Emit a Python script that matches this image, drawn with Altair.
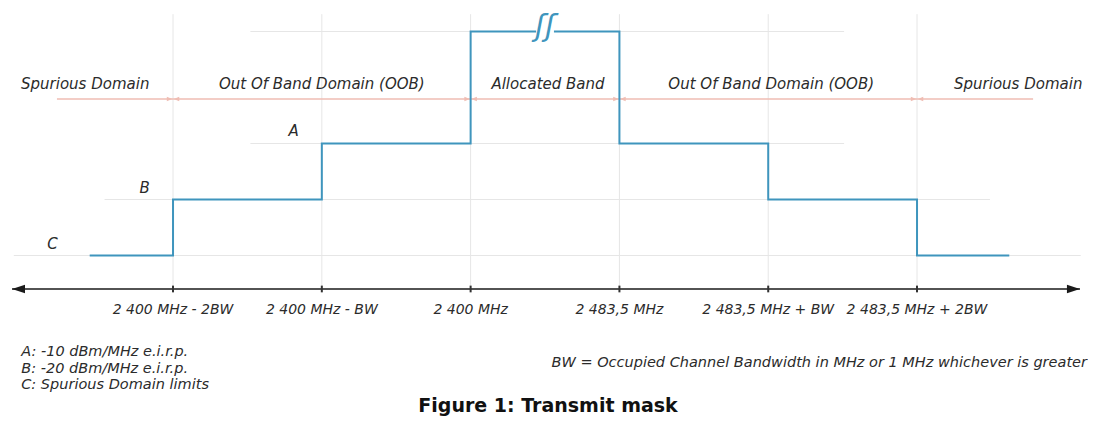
import altair as alt
import pandas as pd

# ---------------- data (x in "tick units": 0 = 2 400 MHz - 2BW ... 5 = 2 483,5 MHz + 2BW)
tick_pos = [0, 1, 2, 3, 4, 5]
tick_labels = ["2 400 MHz - 2BW", "2 400 MHz - BW", "2 400 MHz",
               "2 483,5 MHz", "2 483,5 MHz + BW", "2 483,5 MHz + 2BW"]

# mask levels: 0 = C, 1 = B, 2 = A, 4 = allocated band (axis broken)
mask_x = [-0.56, 0, 0, 1, 1, 2, 2, 3, 3, 4, 4, 5, 5, 5.62]
mask_level = [0, 0, 1, 1, 2, 2, 4, 4, 2, 2, 1, 1, 0, 0]

level_names = ["A", "B", "C"]
level_name_x = [0.81, -0.19, -0.81]
level_name_y = [2.22, 1.21, 0.21]

hgrid_level = [4, 2, 1, 0]
hgrid_start = [0.52, 0.52, -0.46, -1.07]
hgrid_end = [4.51, 4.51, 5.49, 6.10]

domain_names = ["Spurious Domain", "Out Of Band Domain (OOB)", "Allocated Band",
                "Out Of Band Domain (OOB)", "Spurious Domain"]
domain_start = [-0.78, 0, 2, 3, 5]
domain_end = [0, 2, 3, 5, 5.78]
domain_label_x = [-0.59, 1.0, 2.52, 4.02, 5.68]

break_x = [2.5]

footnotes = ["A:  -10 dBm/MHz e.i.r.p.", "B:  -20 dBm/MHz e.i.r.p.", "C:  Spurious Domain limits"]
footnote_y = [-1.72, -2.02, -2.31]
bw_note = "BW = Occupied Channel Bandwidth in MHz or 1 MHz whichever is greater"
title_text = "Figure 1: Transmit mask"

# ---------------- layout constants (data units)
GRID_TOP, GRID_BOT = 4.31, -0.6
DOM_Y, DOM_LABEL_Y = 2.795, 3.07
AXIS_Y, AXIS_X0, AXIS_X1 = -0.598, -1.082, 6.095
TICK_LABEL_Y = -0.973
GAP = 0.06
NOTE_X, BW_X, BW_Y = -1.02, 6.142, -1.92
TITLE_X, TITLE_Y = 2.52, -2.80

XS = alt.Scale(domain=[-1.109, 6.149], nice=False, zero=False)
YS = alt.Scale(domain=[-2.902, 4.420], nice=False, zero=False)
FONT = "DejaVu Sans"
TXT = "#2b2b2b"
GRID = "#e6e6e6"
PINK = "#efbdb3"
BLUE = "#3f95bd"


def X(f):
    return alt.X(f, type="quantitative", scale=XS, axis=None)


def Y(f):
    return alt.Y(f, type="quantitative", scale=YS, axis=None)


def X2(f):
    return alt.X2(f)


def Y2(f):
    return alt.Y2(f)


ticks_df = pd.DataFrame({"x": tick_pos, "label": tick_labels})
ticks_df["g0"] = GRID_TOP
ticks_df["g1"] = GRID_BOT
ticks_df["t0"] = AXIS_Y + 0.06
ticks_df["t1"] = AXIS_Y - 0.06
ticks_df["ly"] = TICK_LABEL_Y

mask_df = pd.DataFrame({"x": mask_x, "lvl": mask_level, "i": list(range(len(mask_x)))})
lvl_df = pd.DataFrame({"name": level_names, "x": level_name_x, "y": level_name_y})
hgrid_df = pd.DataFrame({"lvl": hgrid_level, "x0": hgrid_start, "x1": hgrid_end})
dom_df = pd.DataFrame({"name": domain_names, "x0": domain_start, "x1": domain_end,
                       "xl": domain_label_x})
dom_df["y"] = DOM_Y
dom_df["ly"] = DOM_LABEL_Y
right_heads = pd.DataFrame({"x": domain_end[:-1]})
right_heads["y"] = DOM_Y
left_heads = pd.DataFrame({"x": domain_start[1:]})
left_heads["y"] = DOM_Y

break_df = pd.DataFrame({"x": break_x})
break_df["x0"] = break_df["x"] - GAP
break_df["x1"] = break_df["x"] + GAP
break_df["y"] = 4
break_df["ty"] = 4.08

foot_df = pd.DataFrame({"t": footnotes, "y": footnote_y})
foot_df["x"] = NOTE_X
bw_df = pd.DataFrame({"t": [bw_note], "x": [BW_X], "y": [BW_Y]})
title_df = pd.DataFrame({"t": [title_text], "x": [TITLE_X], "y": [TITLE_Y]})
axis_df = pd.DataFrame({"x0": [AXIS_X0], "x1": [AXIS_X1], "y": [AXIS_Y]})

vgrid = alt.Chart(ticks_df).mark_rule(color=GRID, strokeWidth=1).encode(
    x=X("x"), y=Y("g0"), y2=Y2("g1"))

hgrid = alt.Chart(hgrid_df).mark_rule(color=GRID, strokeWidth=1).encode(
    x=X("x0"), x2=X2("x1"), y=Y("lvl"))

dom_rules = alt.Chart(dom_df).mark_rule(color=PINK, strokeWidth=1.5).encode(
    x=X("x0"), x2=X2("x1"), y=Y("y"))
rh = alt.Chart(right_heads).mark_point(
    shape="M1,0L-1,-0.8L-1,0.8Z", filled=True, color=PINK, size=30, opacity=1,
    xOffset=-3.5).encode(x=X("x"), y=Y("y"))
lh = alt.Chart(left_heads).mark_point(
    shape="M-1,0L1,-0.8L1,0.8Z", filled=True, color=PINK, size=30, opacity=1,
    xOffset=3.5).encode(x=X("x"), y=Y("y"))
dom_text = alt.Chart(dom_df).mark_text(
    font=FONT, fontSize=15, fontStyle="italic", color=TXT, baseline="middle").encode(
    x=X("xl"), y=Y("ly"), text="name:N")

mask = alt.Chart(mask_df).mark_line(color=BLUE, strokeWidth=2, interpolate="linear").encode(
    x=X("x"), y=Y("lvl"), order=alt.Order("i", type="quantitative"))

gap = alt.Chart(break_df).mark_rule(color="white", strokeWidth=5).encode(
    x=X("x0"), x2=X2("x1"), y=Y("y"))
brk = alt.Chart(break_df).mark_text(
    text="ʃʃ", font=FONT, fontSize=30, fontStyle="italic", color=BLUE, baseline="middle").encode(
    x=X("x"), y=Y("ty"))

lvl_text = alt.Chart(lvl_df).mark_text(
    font=FONT, fontSize=15, fontStyle="italic", color=TXT, baseline="middle").encode(
    x=X("x"), y=Y("y"), text="name:N")

axis_line = alt.Chart(axis_df).mark_rule(color="#1a1a1a", strokeWidth=1.5).encode(
    x=X("x0"), x2=X2("x1"), y=Y("y"))
axis_r = alt.Chart(axis_df).mark_point(
    shape="M1,0L-1,-0.65L-1,0.65Z", filled=True, color="#1a1a1a", size=169, opacity=1,
    xOffset=-6.5).encode(x=X("x1"), y=Y("y"))
axis_l = alt.Chart(axis_df).mark_point(
    shape="M-1,0L1,-0.65L1,0.65Z", filled=True, color="#1a1a1a", size=169, opacity=1,
    xOffset=6.5).encode(x=X("x0"), y=Y("y"))
axis_ticks = alt.Chart(ticks_df).mark_rule(color="#333333", strokeWidth=2).encode(
    x=X("x"), y=Y("t0"), y2=Y2("t1"))
tick_text = alt.Chart(ticks_df).mark_text(
    font=FONT, fontSize=14, fontStyle="italic", color=TXT, baseline="middle").encode(
    x=X("x"), y=Y("ly"), text="label:N")

foot_text = alt.Chart(foot_df).mark_text(
    font=FONT, fontSize=14.5, fontStyle="italic", color=TXT, baseline="middle", align="left").encode(
    x=X("x"), y=Y("y"), text="t:N")
bw_text = alt.Chart(bw_df).mark_text(
    font=FONT, fontSize=14.5, fontStyle="italic", color=TXT, baseline="middle", align="right").encode(
    x=X("x"), y=Y("y"), text="t:N")
title = alt.Chart(title_df).mark_text(
    font=FONT, fontSize=19, fontWeight="bold", color="#111111", baseline="alphabetic", align="center").encode(
    x=X("x"), y=Y("y"), text="t:N")

chart = alt.layer(
    vgrid, hgrid, dom_rules, rh, lh, dom_text, mask, gap, brk, lvl_text,
    axis_line, axis_r, axis_l, axis_ticks, tick_text, foot_text, bw_text, title
).properties(
    width=1080, height=410, padding=0, autosize=alt.AutoSizeParams(type="none"),
    background="white"
).configure_view(stroke=None)

chart.save("out.html", embed_options={"renderer": "svg", "actions": False})
